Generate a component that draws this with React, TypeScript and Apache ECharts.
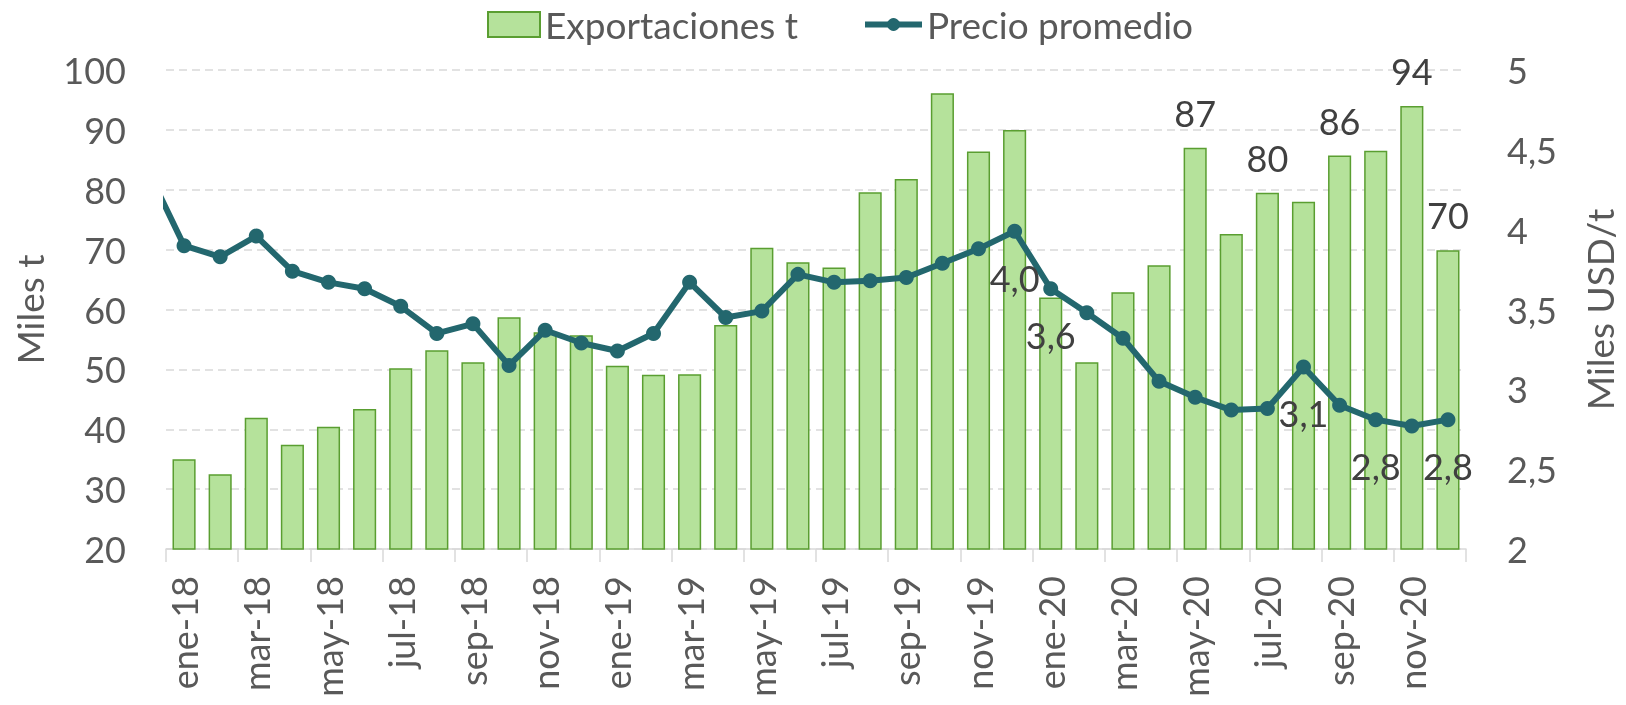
import React, { useEffect, useRef } from "react";
import * as echarts from "echarts";

const months = [
  "ene-18", "feb-18", "mar-18", "abr-18", "may-18", "jun-18", "jul-18", "ago-18", "sep-18", "oct-18", "nov-18", "dic-18",
  "ene-19", "feb-19", "mar-19", "abr-19", "may-19", "jun-19", "jul-19", "ago-19", "sep-19", "oct-19", "nov-19", "dic-19",
  "ene-20", "feb-20", "mar-20", "abr-20", "may-20", "jun-20", "jul-20", "ago-20", "sep-20", "oct-20", "nov-20", "dic-20",
];

const exportaciones = [
  35.0, 32.5, 41.9, 37.4, 40.4, 43.4, 50.2, 53.2, 51.2, 58.7, 56.2, 55.7,
  50.6, 49.1, 49.2, 57.4, 70.3, 67.9, 67.0, 79.6, 81.8, 96.1, 86.4, 90.0,
  62.0, 51.2, 62.9, 67.4, 87.0, 72.6, 79.5, 78.0, 85.7, 86.5, 94.0, 69.9,
];

const precio = [
  3.90, 3.83, 3.96, 3.74, 3.67, 3.63, 3.52, 3.35, 3.41, 3.15, 3.37, 3.29,
  3.24, 3.35, 3.67, 3.45, 3.49, 3.72, 3.67, 3.68, 3.70, 3.79, 3.88, 3.99,
  3.63, 3.48, 3.32, 3.05, 2.95, 2.87, 2.88, 3.14, 2.90, 2.81, 2.77, 2.81,
];

// price of the month before the first category (dic-17), only its segment is visible
const precioPrevio = 4.37;

const barLabelIdx = [28, 30, 32, 34, 35];
const lineLabelIdx = [23, 24, 31, 33, 35];

const FONT = "Lato, 'Open Sans', sans-serif";
const GRAY = "#595959";
const DARK = "#404040";
const GREEN_FILL = "#b5e29b";
const GREEN_BORDER = "#5a9e31";
const TEAL = "#23676e";

export default function App() {
  const ref = useRef<HTMLDivElement>(null);

  useEffect(() => {
    if (!ref.current) return;
    const chart = echarts.init(ref.current, undefined, { renderer: "svg" });

    const barData = exportaciones.map((v, i) => ({
      value: v,
      label: { show: barLabelIdx.includes(i) },
    }));

    const lineData: any[] = [[-1, precioPrevio]].concat(
      precio.map((v, i) => [i, v])
    ).map((p, k) => {
      const i = k - 1;
      return { value: p, label: { show: lineLabelIdx.includes(i) } };
    });

    chart.setOption({
      animation: false,
      textStyle: { fontFamily: FONT },
      legend: [
        {
          data: [{ name: "Exportaciones t", icon: "rect" }],
          left: 482,
          top: 1,
          itemWidth: 52,
          itemHeight: 25,
          textStyle: { fontSize: 37, color: GRAY, fontFamily: FONT },
        },
        {
          data: ["Precio promedio"],
          left: 857,
          top: 1,
          itemWidth: 57,
          itemHeight: 16,
          lineStyle: { width: 6 },
          textStyle: { fontSize: 37, color: GRAY, fontFamily: FONT },
        },
      ],
      grid: { left: 166, right: 151, top: 70, bottom: 156, containLabel: false },
      xAxis: [
        {
          type: "category",
          data: months,
          boundaryGap: true,
          axisLine: { show: true, lineStyle: { color: "#d9d9d9", width: 1.5 } },
          axisTick: {
            show: true,
            interval: 1,
            length: 13,
            alignWithLabel: false,
            lineStyle: { color: "#d9d9d9", width: 1.5 },
          },
          axisLabel: {
            interval: 1,
            rotate: 90,
            margin: 27,
            fontSize: 36,
            color: GRAY,
            fontFamily: FONT,
          },
          splitLine: { show: false },
        },
        {
          type: "value",
          min: -0.5,
          max: 35.5,
          show: false,
        },
      ],
      yAxis: [
        {
          type: "value",
          min: 20,
          max: 100,
          interval: 10,
          name: "Miles t",
          nameLocation: "middle",
          nameRotate: 90,
          nameGap: 118,
          nameTextStyle: { fontSize: 37, color: GRAY, fontFamily: FONT },
          axisLine: { show: false },
          axisTick: { show: false },
          axisLabel: { margin: 40, fontSize: 36, color: GRAY, fontFamily: FONT },
          splitLine: {
            show: true,
            lineStyle: { color: "#d9d9d9", width: 1.5, type: [8, 5] },
          },
        },
        {
          type: "value",
          position: "right",
          min: 2,
          max: 5,
          interval: 0.5,
          name: "Miles USD/t",
          nameLocation: "middle",
          nameRotate: 90,
          nameGap: 115,
          nameTextStyle: { fontSize: 37, color: GRAY, fontFamily: FONT },
          axisLine: { show: false },
          axisTick: { show: false },
          axisLabel: {
            margin: 41,
            fontSize: 36,
            color: GRAY,
            fontFamily: FONT,
            formatter: (v: number) => String(v).replace(".", ","),
          },
          splitLine: { show: false },
        },
      ],
      series: [
        {
          name: "Exportaciones t",
          type: "bar",
          xAxisIndex: 0,
          yAxisIndex: 0,
          barWidth: "64%",
          data: barData,
          itemStyle: { color: GREEN_FILL, borderColor: GREEN_BORDER, borderWidth: 1.5 },
          label: {
            show: false,
            position: "top",
            distance: 17,
            fontSize: 36,
            color: DARK,
            fontFamily: FONT,
            formatter: (p: any) => String(Math.round(p.value)),
          },
          z: 2,
        },
        {
          name: "Precio promedio",
          type: "line",
          xAxisIndex: 1,
          yAxisIndex: 1,
          data: lineData,
          clip: true,
          symbol: "circle",
          symbolSize: 15,
          lineStyle: { color: TEAL, width: 6 },
          itemStyle: { color: TEAL },
          label: {
            show: false,
            position: "bottom",
            distance: 21,
            fontSize: 36,
            color: DARK,
            fontFamily: FONT,
            formatter: (p: any) => Number(p.value[1]).toFixed(1).replace(".", ","),
          },
          z: 3,
        },
      ],
    });

    return () => chart.dispose();
  }, []);

  return (
    <div
      ref={ref}
      style={{ position: "fixed", left: 0, top: 0, width: 1626, height: 705 }}
    />
  );
}
